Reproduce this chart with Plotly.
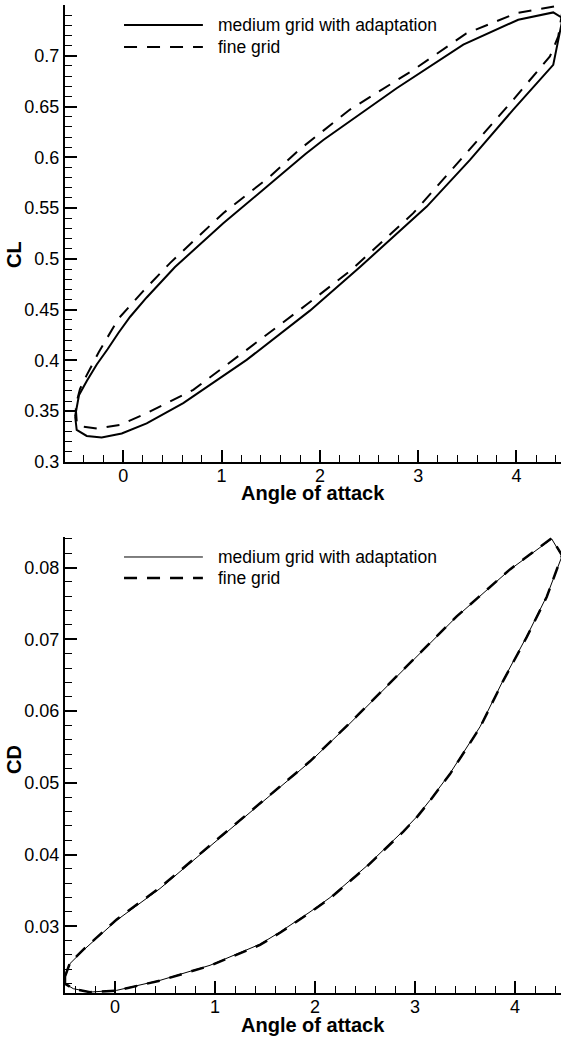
import plotly.graph_objects as go

# ---- CL data (closed hysteresis loops) ----
alpha_cl_medium = [-0.49, -0.45, -0.37, -0.27, -0.16, -0.05, 0.07, 0.238, 0.526, 1.017, 1.459, 1.85,
                   2.035, 2.781, 3.459, 4.018, 4.374, 4.47, 4.374, 3.967, 3.527, 3.087, 2.408,
                   1.899, 1.255, 0.610, 0.238, -0.016, -0.22, -0.372, -0.474, -0.49]
cl_medium = [0.345, 0.366, 0.380, 0.396, 0.411, 0.427, 0.443, 0.462, 0.492, 0.535, 0.571, 0.603,
             0.617, 0.668, 0.711, 0.7355, 0.7427, 0.737, 0.691, 0.647, 0.5975, 0.5515, 0.492,
             0.449, 0.4005, 0.358, 0.338, 0.328, 0.324, 0.3256, 0.3315, 0.345]

alpha_cl_fine = [-0.474, -0.485, -0.44, -0.38, -0.25, -0.05, 0.2, 0.475, 1.017, 1.492, 1.797,
                 2.306, 2.95, 3.49, 4.0, 4.41, 4.47, 4.425, 4.34, 3.967, 3.49, 2.95, 2.306, 1.866,
                 1.255, 0.712, 0.238, -0.034, -0.27, -0.407, -0.474]
cl_fine = [0.340, 0.355, 0.372, 0.384, 0.408, 0.441, 0.468, 0.4958, 0.545, 0.581, 0.608,
           0.647, 0.686, 0.722, 0.742, 0.749, 0.746, 0.719, 0.6993, 0.6567, 0.604, 0.545, 0.488,
           0.455, 0.4104, 0.371, 0.348, 0.3365, 0.333, 0.3348, 0.340]

# ---- CD data ----
alpha_cd_medium = [-0.5, -0.45, -0.317, 0.017, 0.45, 0.983, 1.45, 1.95, 2.35, 2.883, 3.417, 3.95,
                   4.367, 4.47, 4.317, 4.117, 3.883, 3.65, 3.35, 3.15, 3.017, 2.883, 2.517, 2.15,
                   1.95, 1.65, 1.45, 0.95, 0.45, 0.017, -0.25, -0.417, -0.5, -0.5]
cd_medium = [0.02293, 0.0248, 0.02665, 0.03084, 0.03526, 0.04154, 0.04712, 0.05293, 0.05829,
             0.06572, 0.07316, 0.07972, 0.0840, 0.0816, 0.0760, 0.0704, 0.06433, 0.05781,
             0.05131, 0.04758, 0.04525, 0.0433, 0.0384, 0.0340, 0.0320, 0.0292, 0.0275,
             0.02456, 0.02246, 0.02107, 0.02083, 0.0213, 0.022, 0.02293]

alpha_cd_fine = [-0.5, -0.45, -0.317, 0.017, 0.45, 0.983, 1.45, 1.95, 2.35, 2.883, 3.417, 3.95,
                 4.367, 4.47, 4.317, 4.117, 3.883, 3.65, 3.35, 3.15, 3.017, 2.883, 2.517, 2.15,
                 1.95, 1.65, 1.45, 0.95, 0.45, 0.017, -0.25, -0.417, -0.5, -0.5]
cd_fine = [0.02300, 0.0249, 0.02675, 0.03095, 0.03540, 0.04168, 0.04722, 0.05300, 0.05835,
           0.06578, 0.07320, 0.07975, 0.0841, 0.0817, 0.0759, 0.0703, 0.06425, 0.05772,
           0.05122, 0.04750, 0.04518, 0.0432, 0.0383, 0.0339, 0.0319, 0.0291, 0.0274,
           0.02450, 0.02242, 0.02104, 0.02081, 0.0213, 0.0220, 0.02300]

legend_labels = ["medium grid with adaptation", "fine grid"]
x_title = "Angle of attack"
y_titles = ["CL", "CD"]

FONT = "Liberation Sans, Arial, Helvetica, sans-serif"
DASH = "13px,10px"

fig = go.Figure()
fig.add_trace(go.Scatter(x=alpha_cl_fine, y=cl_fine, mode="lines", xaxis="x", yaxis="y",
                         line=dict(color="black", width=2, dash=DASH), showlegend=False))
fig.add_trace(go.Scatter(x=alpha_cl_medium, y=cl_medium, mode="lines", xaxis="x", yaxis="y",
                         line=dict(color="black", width=2), showlegend=False))
fig.add_trace(go.Scatter(x=alpha_cd_fine, y=cd_fine, mode="lines", xaxis="x2", yaxis="y2",
                         line=dict(color="black", width=2.5, dash=DASH), showlegend=False))
fig.add_trace(go.Scatter(x=alpha_cd_medium, y=cd_medium, mode="lines", xaxis="x2", yaxis="y2",
                         line=dict(color="black", width=1), showlegend=False))

axis_common = dict(showgrid=False, zeroline=False, showline=True, linecolor="black", linewidth=2,
                   ticks="inside", ticklen=12, tickwidth=2, tickcolor="black", automargin=False,
                   tickfont=dict(family=FONT, size=18, color="black"), mirror=False)
minor_common = dict(ticks="inside", ticklen=7, tickwidth=1, tickcolor="black")
title_font = dict(family=FONT, size=20, color="black")

fig.update_layout(
    width=561, height=1037,
    margin=dict(l=65, r=0, t=5, b=44),
    plot_bgcolor="white", paper_bgcolor="white",
    showlegend=False,
    xaxis=dict(domain=[0, 1], anchor="y", range=[-0.593, 4.453], dtick=1, tick0=0,
               minor=dict(dtick=0.2, tick0=0, **minor_common), ticklabelstandoff=-4,
               **axis_common),
    yaxis=dict(domain=[0.5375, 1], anchor="x", range=[0.3, 0.75], dtick=0.05, tick0=0,
               minor=dict(dtick=0.01, tick0=0, **minor_common),
               **axis_common),
    xaxis2=dict(domain=[0, 1], anchor="y2", range=[-0.5, 4.46], dtick=1, tick0=0,
                minor=dict(dtick=0.2, tick0=0, **minor_common), ticklabelstandoff=-4,
                **axis_common),
    yaxis2=dict(domain=[0, 0.4618], anchor="x2", range=[0.0207, 0.0843], dtick=0.01, tick0=0,
                minor=dict(dtick=0.002, tick0=0, **minor_common),
                **axis_common),
)

# axis titles
for yy in (0.5061, -0.0324):
    fig.add_annotation(xref="paper", yref="paper", x=0.5, y=yy, text="<b>%s</b>" % x_title,
                       showarrow=False, xanchor="center", yanchor="middle", font=title_font)
for yy, t in zip((0.747, 0.2358), y_titles):
    fig.add_annotation(xref="paper", yref="paper", x=-0.1028, y=yy, text="<b>%s</b>" % t,
                       showarrow=False, xanchor="center", yanchor="middle", textangle=-90,
                       font=title_font)

# manual legends (sample lines + labels), paper coordinates
legend_rows = [
    (0.9798, 0.9575, 2, 2),
    (0.4413, 0.4200, 1, 2.5),
]
x0, x1, xt = 0.119, 0.278, 0.3045
for ys, yd, ws, wd in legend_rows:
    fig.add_shape(type="line", xref="paper", yref="paper", x0=x0, x1=x1, y0=ys, y1=ys,
                  line=dict(color="black", width=ws))
    fig.add_shape(type="line", xref="paper", yref="paper", x0=x0, x1=x1, y0=yd, y1=yd,
                  line=dict(color="black", width=wd, dash=DASH))
    for yy, lab in zip((ys, yd), legend_labels):
        fig.add_annotation(xref="paper", yref="paper", x=xt, y=yy, text=lab, showarrow=False,
                           xanchor="left", yanchor="middle",
                           font=dict(family=FONT, size=17.5, color="black"))

fig.write_html("out.html", config={"displayModeBar": False},
               post_script="document.body.style.margin='0px';document.body.style.overflow='hidden';")
